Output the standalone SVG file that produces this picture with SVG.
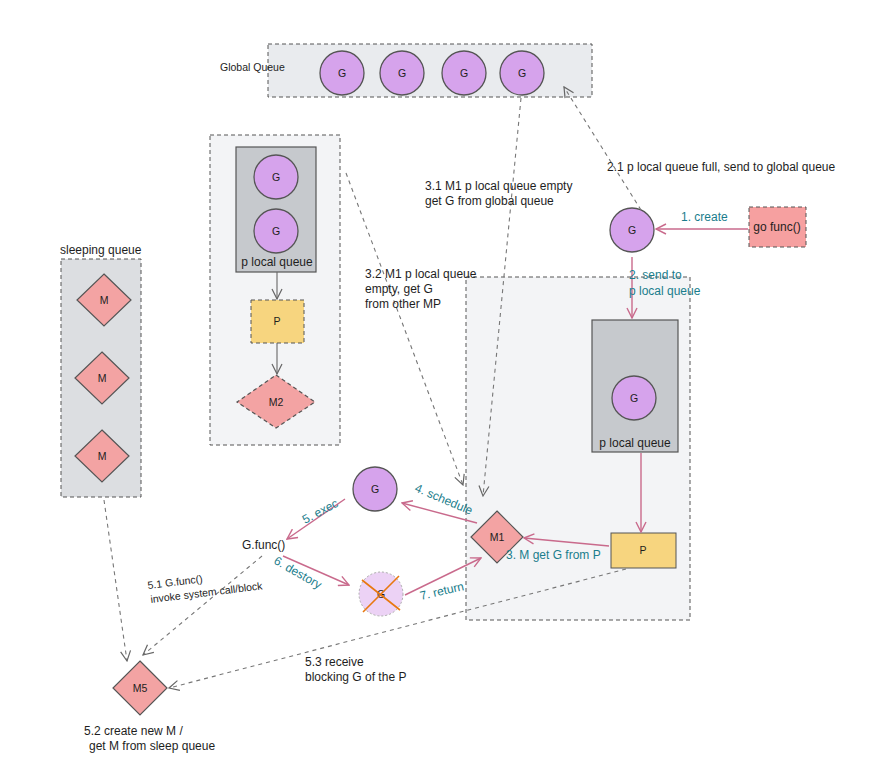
<svg xmlns="http://www.w3.org/2000/svg" width="887" height="777" viewBox="0 0 887 777">
<defs>
<style>
text{font-family:"Liberation Sans","DejaVu Sans",sans-serif;font-size:12px;fill:#1e1e1e}
.t{fill:#1a7d8c}
.c{text-anchor:middle}
.s{font-size:10.5px}
.box{stroke:#555;stroke-width:1;stroke-dasharray:4 3}
.g{fill:#d6a3ec;stroke:#555;stroke-width:1.3}
.m{fill:#f3a3a3;stroke:#555;stroke-width:1.2}
.p{fill:#f7d57f;stroke:#555;stroke-width:1}
.q{fill:#c6c9cd;stroke:#555;stroke-width:1.2}
.pk{stroke:#c96a8c;stroke-width:1.4;fill:none}
.dk{stroke:#666;stroke-width:1.1;fill:none}
.ds{stroke:#777;stroke-width:1.1;fill:none;stroke-dasharray:4 4}
</style>
<marker id="ap" viewBox="0 0 12 12" refX="11" refY="6" markerWidth="12" markerHeight="12" markerUnits="userSpaceOnUse" orient="auto"><path d="M1,1 L11,6 L1,11" fill="none" stroke="#c96a8c" stroke-width="1.4"/></marker>
<marker id="ag" viewBox="0 0 12 12" refX="11" refY="6" markerWidth="12" markerHeight="12" markerUnits="userSpaceOnUse" orient="auto"><path d="M1,1 L11,6 L1,11" fill="none" stroke="#666" stroke-width="1.2"/></marker>
</defs>
<rect width="887" height="777" fill="#ffffff"/>

<g id="global-queue">
<rect class="box" x="268" y="44" width="324" height="53" fill="#e9ebee"/>
<text x="220" y="71" class="s">Global Queue</text>
<circle class="g" cx="342" cy="73" r="22"/><text class="c s" x="342" y="77">G</text>
<circle class="g" cx="402" cy="73" r="22"/><text class="c s" x="402" y="77">G</text>
<circle class="g" cx="464" cy="73" r="22"/><text class="c s" x="464" y="77">G</text>
<circle class="g" cx="522" cy="73" r="22"/><text class="c s" x="522" y="77">G</text>
</g>

<g id="mp2">
<rect class="box" x="210" y="135" width="130" height="310" fill="#f3f4f6"/>
<rect class="q" x="236" y="147" width="80" height="125"/>
<circle class="g" cx="276" cy="177" r="22"/><text class="c s" x="276" y="181">G</text>
<circle class="g" cx="276" cy="231" r="22"/><text class="c s" x="276" y="235">G</text>
<text class="c" x="277" y="266">p local queue</text>
<rect class="p" x="251" y="300" width="53" height="43" stroke-dasharray="4 3"/><text class="c s" x="277" y="325">P</text>
<polygon class="m" points="276,375 315,402 276,428 237,402" stroke-dasharray="4 3"/><text class="c s" x="276" y="406">M2</text>
</g>

<g id="sleeping-queue">
<text x="60" y="254">sleeping queue</text>
<rect class="box" x="61" y="259" width="80" height="238" fill="#dcdee1"/>
<polygon class="m" points="104,274 131,300 104,326 77,300"/><text class="c s" x="104" y="304">M</text>
<polygon class="m" points="102,352 129,378 102,404 75,378"/><text class="c s" x="102" y="382">M</text>
<polygon class="m" points="102,430 129,456 102,482 75,456"/><text class="c s" x="102" y="460">M</text>
</g>

<g id="mp1">
<rect class="box" x="466" y="277" width="224" height="343" fill="#f3f4f6"/>
<rect class="q" x="592" y="320" width="86" height="132"/>
<circle class="g" cx="634" cy="398" r="22"/><text class="c s" x="634" y="402">G</text>
<text class="c" x="635" y="447">p local queue</text>
<rect class="p" x="611" y="533" width="65" height="35"/><text class="c s" x="643" y="554">P</text>
<polygon class="m" points="497,511 523,537 497,563 471,537"/><text class="c s" x="497" y="541">M1</text>
</g>

<g id="g-new">
<circle class="g" cx="632" cy="230" r="22"/><text class="c s" x="632" y="234">G</text>
</g>
<g id="go-func">
<rect x="749" y="207" width="57" height="40" fill="#f6a0a0" stroke="#555" stroke-dasharray="4 3"/>
<text class="c" x="777" y="231">go func()</text>
</g>
<g id="g-exec">
<circle class="g" cx="375" cy="489" r="22"/><text class="c s" x="375" y="493">G</text>
</g>
<g id="gfunc"><text x="242" y="549">G.func()</text></g>
<g id="g-destroyed">
<circle cx="381" cy="594" r="22" fill="#ecd2f5" stroke="#aaa" stroke-dasharray="2 2"/>
<text class="c s" x="381" y="598">G</text>
<path d="M363,612 L399,576 M362,580 L400,610" stroke="#e8780f" stroke-width="1.6" fill="none"/>
</g>
<g id="m5">
<polygon class="m" points="140,661 167,688 140,715 113,688"/><text class="c s" x="140" y="692">M5</text>
</g>

<g id="connectors">
<path class="dk" d="M277,272 L277,299" marker-end="url(#ag)"/>
<path class="dk" d="M277,343 L277,374" marker-end="url(#ag)"/>
<path class="pk" d="M748,229 L656,229" marker-end="url(#ap)"/>
<path class="pk" d="M632,257 L632,318" marker-end="url(#ap)"/>
<path class="pk" d="M641,453 L641,532" marker-end="url(#ap)"/>
<path class="pk" d="M609,546 L524,538" marker-end="url(#ap)"/>
<path class="pk" d="M477,523 L402,503" marker-end="url(#ap)"/>
<path class="pk" d="M345,499 L287,539" marker-end="url(#ap)"/>
<path class="pk" d="M283,556 L349,585" marker-end="url(#ap)"/>
<path class="pk" d="M405,595 L481,558" marker-end="url(#ap)"/>
<path class="ds" d="M641,210 L564,87" marker-end="url(#ag)"/>
<path class="ds" d="M521,98 L483,496" marker-end="url(#ag)"/>
<path class="ds" d="M346,173 L463,485" marker-end="url(#ag)"/>
<path class="ds" d="M104,500 L127,661" marker-end="url(#ag)"/>
<path class="ds" d="M262,556 L143,655" marker-end="url(#ag)"/>
<path class="ds" d="M626,569 L169,688" marker-end="url(#ag)"/>
</g>

<g id="labels">
<text x="607" y="171">2.1 p local queue full,  send to global queue</text>
<text x="425" y="190">3.1 M1 p local queue empty</text>
<text x="425" y="205">get G from global queue</text>
<text x="365" y="278">3.2 M1 p local queue</text>
<text x="365" y="293">empty, get G</text>
<text x="365" y="308">from other MP</text>
<text class="t" x="681" y="221">1. create</text>
<text class="t" x="629" y="279">2. send to</text>
<text class="t" x="629" y="295">p local queue</text>
<text class="t" x="506" y="559">3. M get G from P</text>
<text class="t" transform="translate(414,491) rotate(23)">4. schedule</text>
<text class="t" transform="translate(305,524) rotate(-28)">5. exec</text>
<text class="t" transform="translate(273,563) rotate(30)">6. destory</text>
<text class="t" transform="translate(421,600) rotate(-13)">7. return</text>
<text class="s" transform="translate(148,589) rotate(-7)">5.1  G.func()</text>
<text class="s" transform="translate(151,603) rotate(-7)">invoke system call/block</text>
<text x="305" y="666">5.3 receive</text>
<text x="305" y="681">blocking G of the P</text>
<text x="84" y="735">5.2 create new M /</text>
<text x="89" y="750">get M from sleep queue</text>
</g>
</svg>
